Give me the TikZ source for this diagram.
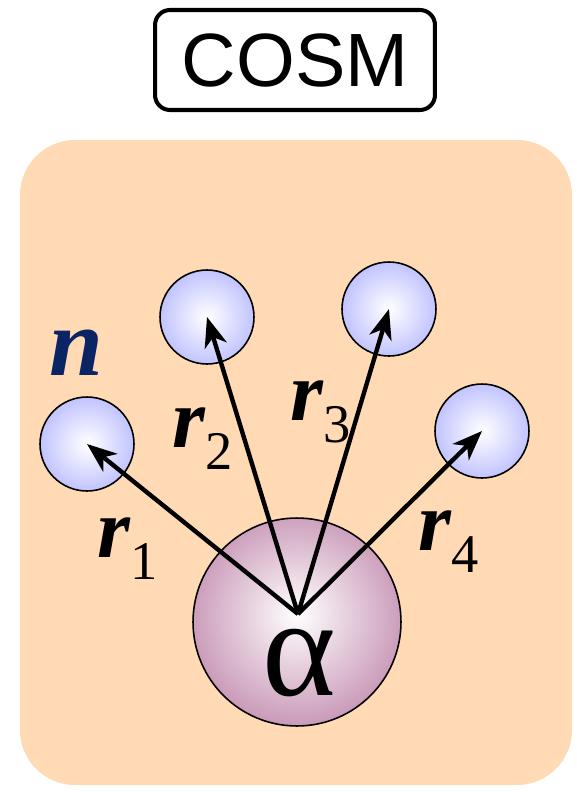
\documentclass[tikz,border=0pt]{standalone}
\usepackage{fontspec}
\setmainfont{Liberation Serif}
\newfontfamily\titlefont{Liberation Sans}
\usetikzlibrary{arrows.meta}
\definecolor{peach}{HTML}{FFDAB5}
\definecolor{nucblue}{HTML}{B0B3FF}
\definecolor{alpharose}{HTML}{B97AA2}
\definecolor{navy}{HTML}{0A2464}
\pgfdeclareradialshading{nucball}{\pgfpoint{0bp}{0bp}}{%
  color(0bp)=(white); color(32bp)=(nucblue); color(50bp)=(nucblue)}
\pgfdeclareradialshading{alphaball}{\pgfpoint{0bp}{2bp}}{%
  color(0bp)=(white); color(34bp)=(alpharose); color(50bp)=(alpharose)}
\begin{document}
\begin{tikzpicture}[x=0.02cm,y=-0.02cm]
                    \tikzset{
                        nucleon/.style={draw, circle, line width=0.9pt, minimum size=1.88cm, shading=nucball},
                        alpha/.style={draw, circle, line width=0.9pt, minimum size=4.16cm, shading=alphaball},
                        arc/.style={-{Stealth[length=17pt,width=13pt,inset=5pt]}, line width=2.5pt},
                        rlabel/.style={anchor=base west, inner sep=0pt, font=\fontsize{48}{48}\selectfont\bfseries\itshape}
                    }
                    \useasboundingbox (0,0) rectangle (577,792);
                    \fill[peach, rounded corners=1.1cm] (20,140) rectangle (572,785);
                    \draw node[draw, line width=2.3pt, rounded corners=0.3cm, minimum width=5.6cm, minimum height=2cm, font=\titlefont\fontsize{43}{43}\selectfont] (title) at (295,60) {COSM};

                    \draw node[alpha] (al) at (297,622) {};
                    \draw node[nucleon] (n1) at (87,444) {};
                    \draw node[nucleon] (n2) at (207,317) {};
                    \draw node[nucleon] (n3) at (389,309) {};
                    \draw node[nucleon] (n4) at (482,431) {};
                    \coordinate (o) at (298,614);
                    \foreach \y in {n1, n2, n3, n4}{
                    \draw (o) edge[arc] (\y.center);
                    }

                    \draw node[anchor=base, inner sep=0pt, font=\fontsize{80}{80}\selectfont] (alab) at (299,695) {α};
                    \draw node[anchor=base west, inner sep=0pt, text=navy, font=\fontsize{55}{55}\selectfont\bfseries\itshape] (nlab) at (49,375) {n};
                    \foreach \i/\px/\py in {1/97/557, 2/172/447, 3/290/420, 4/418/550}{
                    \draw node[rlabel] (r\i) at (\px,\py) {r\raisebox{-13pt}{\fontsize{31}{31}\selectfont\mdseries\upshape\i}};
                    }
                \end{tikzpicture}
\end{document}
